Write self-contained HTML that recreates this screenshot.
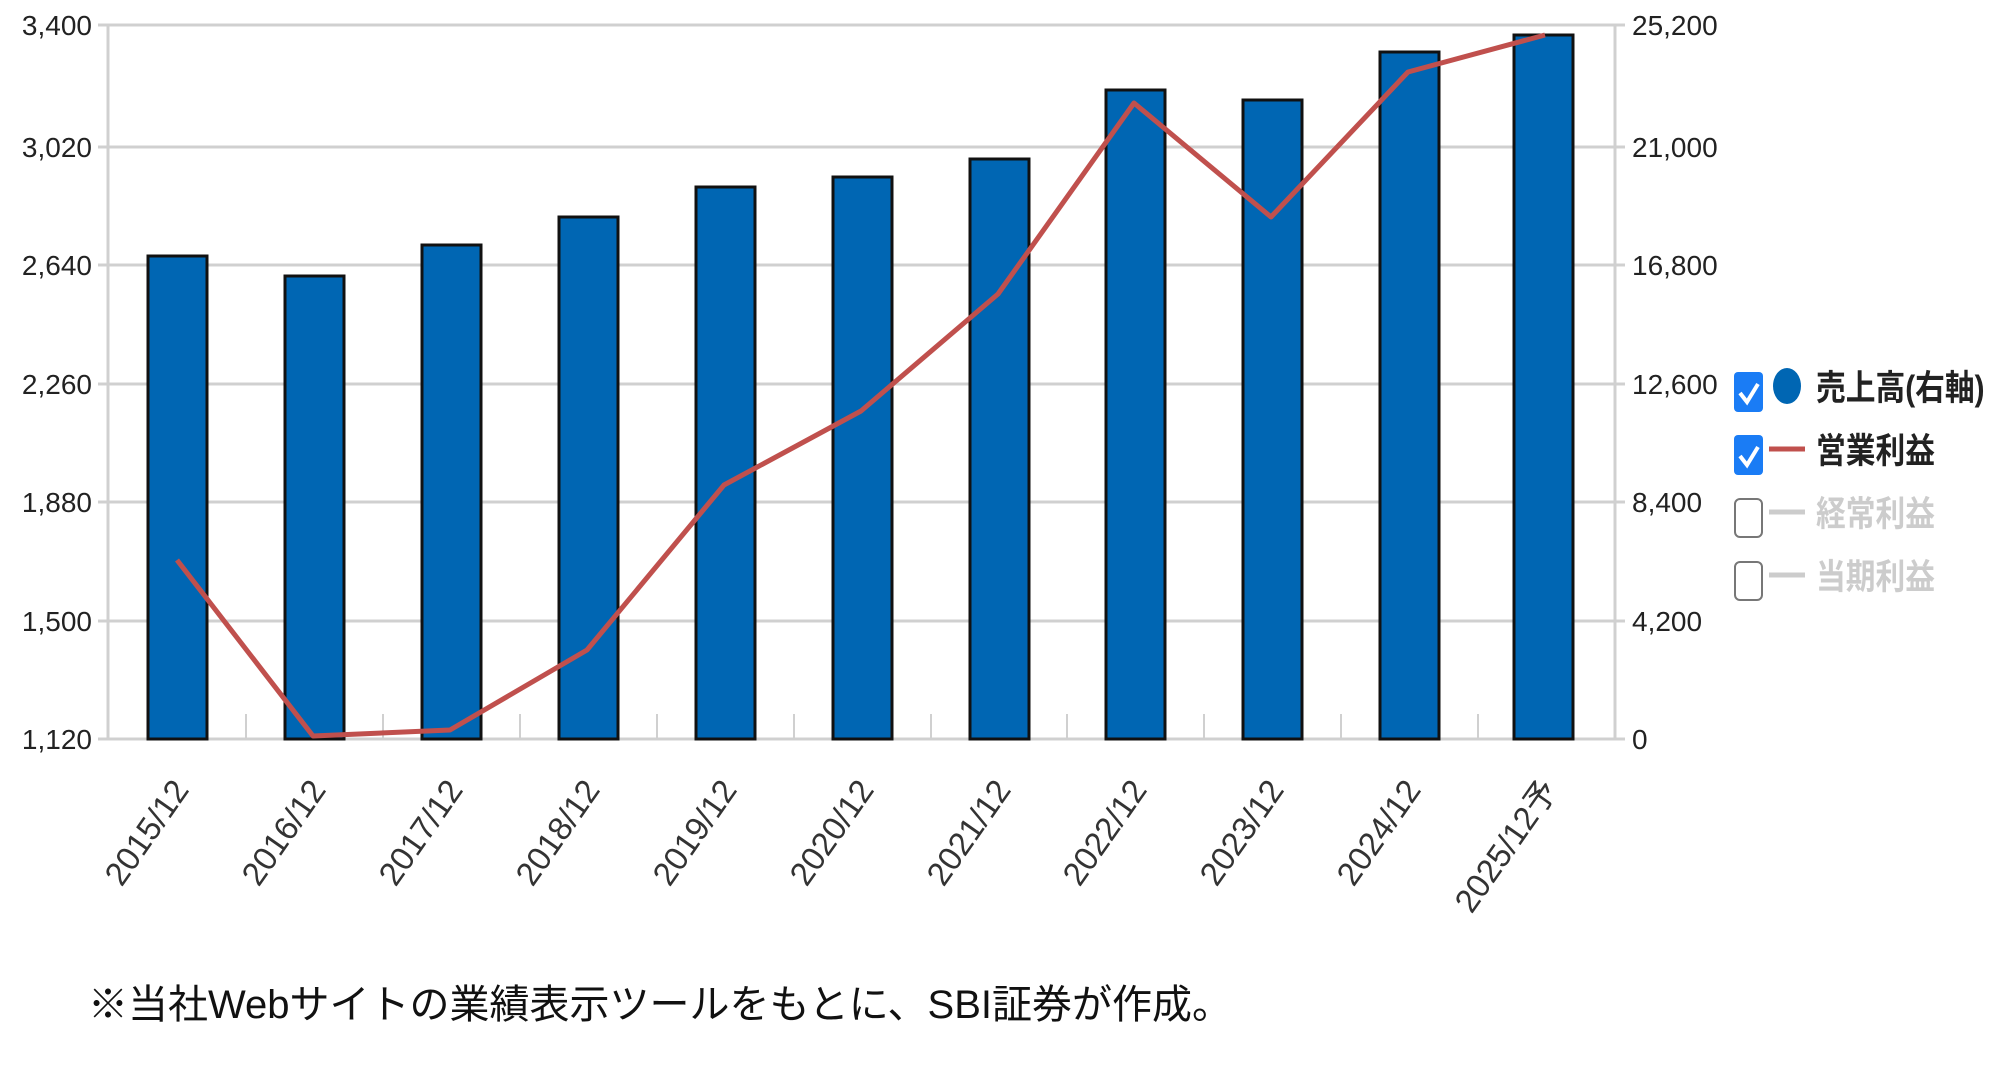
<!DOCTYPE html>
<html><head><meta charset="utf-8"><style>
body{margin:0;background:#fff;}
svg{display:block}
</style></head><body>
<svg width="1994" height="1069" xmlns="http://www.w3.org/2000/svg" font-family="'Liberation Sans','Noto Sans CJK JP',sans-serif">
<g stroke="#d0d0d0" stroke-width="3">
<line x1="98" y1="25" x2="1625" y2="25"/>
<line x1="98" y1="147" x2="1625" y2="147"/>
<line x1="98" y1="265" x2="1625" y2="265"/>
<line x1="98" y1="384" x2="1625" y2="384"/>
<line x1="98" y1="502" x2="1625" y2="502"/>
<line x1="98" y1="621" x2="1625" y2="621"/>
<line x1="98" y1="739" x2="1625" y2="739"/>
<line x1="108" y1="25" x2="108" y2="739"/>
<line x1="1615" y1="25" x2="1615" y2="739"/>
</g>
<g stroke="#d0d0d0" stroke-width="2">
<line x1="246" y1="714" x2="246" y2="739"/><line x1="383" y1="714" x2="383" y2="739"/><line x1="520" y1="714" x2="520" y2="739"/><line x1="657" y1="714" x2="657" y2="739"/><line x1="794" y1="714" x2="794" y2="739"/><line x1="931" y1="714" x2="931" y2="739"/><line x1="1067" y1="714" x2="1067" y2="739"/><line x1="1204" y1="714" x2="1204" y2="739"/><line x1="1341" y1="714" x2="1341" y2="739"/><line x1="1478" y1="714" x2="1478" y2="739"/>
</g>
<g fill="#0066b3" stroke="#111" stroke-width="3">
<rect x="148" y="256" width="59" height="483"/>
<rect x="285" y="276" width="59" height="463"/>
<rect x="422" y="245" width="59" height="494"/>
<rect x="559" y="217" width="59" height="522"/>
<rect x="696" y="187" width="59" height="552"/>
<rect x="833" y="177" width="59" height="562"/>
<rect x="970" y="159" width="59" height="580"/>
<rect x="1106" y="90" width="59" height="649"/>
<rect x="1243" y="100" width="59" height="639"/>
<rect x="1380" y="52" width="59" height="687"/>
<rect x="1514" y="35" width="59" height="704"/>
</g>
<polyline fill="none" stroke="#c0504d" stroke-width="5" stroke-linejoin="round" points="177,560 313,736 450,730 587,650 724,485 861,411 998,294 1134,103 1271,217 1408,72 1545,35"/>
<g font-size="28" fill="#222" text-anchor="end">
<text x="92" y="35">3,400</text><text x="92" y="157">3,020</text><text x="92" y="275">2,640</text><text x="92" y="394">2,260</text><text x="92" y="512">1,880</text><text x="92" y="631">1,500</text><text x="92" y="749">1,120</text>
</g>
<g font-size="28" fill="#222">
<text x="1632" y="35">25,200</text><text x="1632" y="157">21,000</text><text x="1632" y="275">16,800</text><text x="1632" y="394">12,600</text><text x="1632" y="512">8,400</text><text x="1632" y="631">4,200</text><text x="1632" y="749">0</text>
</g>
<g font-size="33" fill="#333" text-anchor="end">
<text transform="translate(190,790) rotate(-55)">2015/12</text>
<text transform="translate(327,790) rotate(-55)">2016/12</text>
<text transform="translate(464,790) rotate(-55)">2017/12</text>
<text transform="translate(601,790) rotate(-55)">2018/12</text>
<text transform="translate(738,790) rotate(-55)">2019/12</text>
<text transform="translate(875,790) rotate(-55)">2020/12</text>
<text transform="translate(1012,790) rotate(-55)">2021/12</text>
<text transform="translate(1148,790) rotate(-55)">2022/12</text>
<text transform="translate(1285,790) rotate(-55)">2023/12</text>
<text transform="translate(1422,790) rotate(-55)">2024/12</text>
<text transform="translate(1559,790) rotate(-55)">2025/12予</text>
</g>
<g>
<rect x="1734" y="372" width="29" height="40" rx="4" fill="#1a7cf5"/>
<path d="M1740 393 l7 9 l11 -18" stroke="#fff" stroke-width="4" fill="none"/>
<ellipse cx="1787" cy="386" rx="14" ry="18" fill="#0066b3"/>
<rect x="1734" y="435" width="29" height="40" rx="4" fill="#1a7cf5"/>
<path d="M1740 456 l7 9 l11 -18" stroke="#fff" stroke-width="4" fill="none"/>
<line x1="1769" y1="449" x2="1805" y2="449" stroke="#c0504d" stroke-width="5"/>
<rect x="1735" y="499" width="27" height="38" rx="5" fill="#fff" stroke="#777" stroke-width="2"/>
<line x1="1769" y1="512" x2="1805" y2="512" stroke="#ccc" stroke-width="5"/>
<rect x="1735" y="562" width="27" height="38" rx="5" fill="#fff" stroke="#777" stroke-width="2"/>
<line x1="1769" y1="575" x2="1805" y2="575" stroke="#ccc" stroke-width="5"/>
<g font-size="35" font-weight="bold">
<text transform="translate(1816,400) scale(0.85,1)" fill="#222">売上高(右軸)</text>
<text transform="translate(1816,463) scale(0.85,1)" fill="#222">営業利益</text>
<text transform="translate(1816,526) scale(0.85,1)" fill="#ccc">経常利益</text>
<text transform="translate(1816,589) scale(0.85,1)" fill="#ccc">当期利益</text>
</g>
</g>
<text x="88" y="1018" font-size="40" fill="#111">※当社Webサイトの業績表示ツールをもとに、SBI証券が作成。</text>
</svg>
</body></html>
